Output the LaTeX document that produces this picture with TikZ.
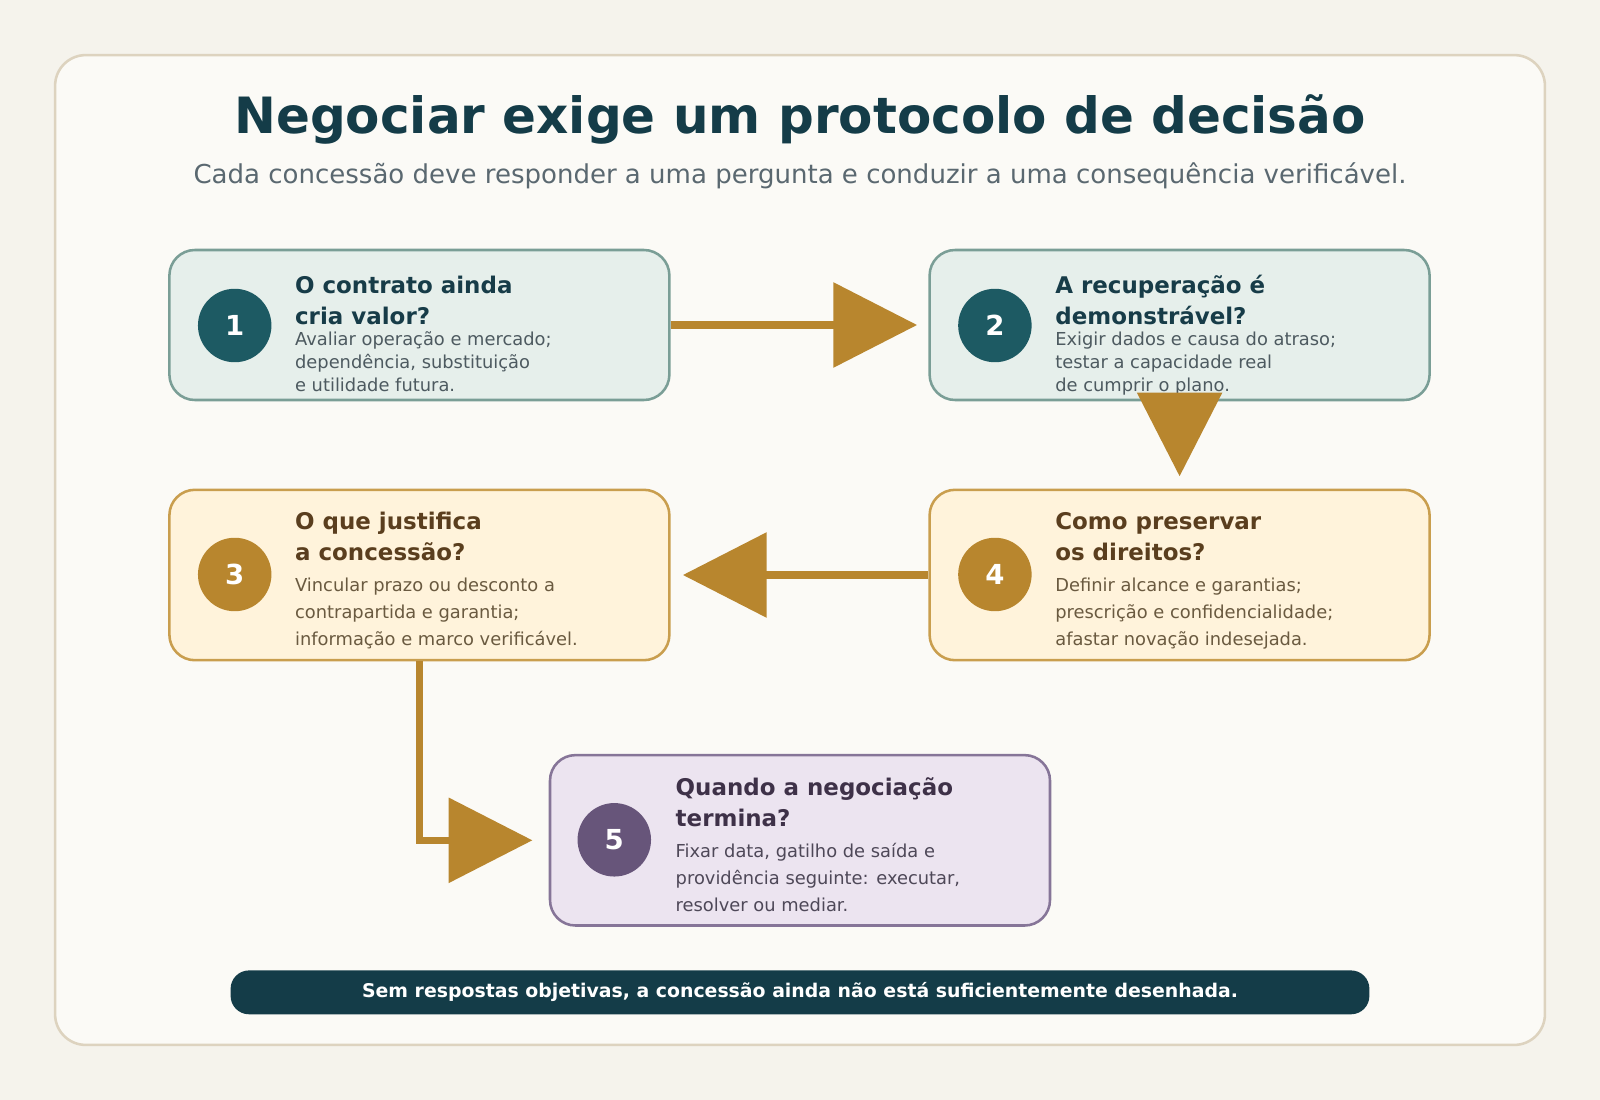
\documentclass[tikz,border=0pt]{standalone}
\usepackage{fontspec}
\setmainfont{DejaVu Sans}
\usetikzlibrary{arrows.meta}
\definecolor{bg}{HTML}{F5F3EC}\definecolor{card}{HTML}{FBFAF6}\definecolor{cardb}{HTML}{DDD3BF}
\definecolor{dark}{HTML}{143C48}\definecolor{sub}{HTML}{5A6870}
\definecolor{tf}{HTML}{E6EFEB}\definecolor{tb}{HTML}{7A9E96}\definecolor{tc}{HTML}{1D5A63}\definecolor{tt}{HTML}{173C48}\definecolor{tx}{HTML}{4D5A60}
\definecolor{yf}{HTML}{FFF3DB}\definecolor{yb}{HTML}{C99E4E}\definecolor{yc}{HTML}{B8862E}\definecolor{yt}{HTML}{5A3E1E}\definecolor{yx}{HTML}{6A5A40}
\definecolor{pf}{HTML}{ECE4F0}\definecolor{pb}{HTML}{867598}\definecolor{pc}{HTML}{67557A}\definecolor{pt}{HTML}{3E3148}\definecolor{px}{HTML}{4E4858}
\definecolor{arr}{HTML}{B8862E}
\begin{document}
\begin{tikzpicture}[x=1pt,y=-1pt,
 box/.style={draw,line width=2.5pt,rounded corners=25pt,minimum width=490pt,inner sep=0pt},
 num/.style={circle,minimum size=72pt,inner sep=0pt,text=white,font=\fontsize{27}{27}\selectfont\bfseries},
 ttl/.style={anchor=base west,inner sep=0pt,font=\fontsize{22.5}{30}\selectfont\bfseries,align=left},
 bdy/.style={anchor=base west,inner sep=0pt,align=left},
 con/.style={draw=arr,line width=7pt,-{Triangle[length=82pt,width=82pt]}}]
\useasboundingbox (0,0) rectangle (1568,1078);
\fill[bg] (0,0) rectangle (1568,1078);
\draw[fill=card,draw=cardb,line width=2.5pt,rounded corners=30pt] (54,54) rectangle (1514,1024);
\node[font=\fontsize{49}{49}\selectfont\bfseries,text=dark] (title) at (784,117) {Negociar exige um protocolo de decisão};
\node[font=\fontsize{25.5}{25.5}\selectfont,text=sub] (subt) at (784,172) {Cada concessão deve responder a uma pergunta e conduzir a uma consequência verificável.};
% boxes
\node[box,fill=tf,draw=tb,minimum height=147pt] (b1) at (411,318.5) {};
\node[box,fill=tf,draw=tb,minimum height=147pt] (b2) at (1156,318.5) {};
\node[box,fill=yf,draw=yb,minimum height=167pt] (b3) at (411,563.5) {};
\node[box,fill=yf,draw=yb,minimum height=167pt] (b4) at (1156,563.5) {};
\node[box,fill=pf,draw=pb,minimum height=167pt] (b5) at (784,823.5) {};
\node[num,fill=tc] (n1) at (230,319) {1};
\node[num,fill=tc] (n2) at (975,319) {2};
\node[num,fill=yc] (n3) at (230,563) {3};
\node[num,fill=yc] (n4) at (975,563) {4};
\node[num,fill=pc] (n5) at (602,823) {5};
\node[ttl,text=tt] (t1) at (289,318) {O contrato ainda\\cria valor?};
\node[bdy,text=tx,font=\fontsize{17.5}{22.5}\selectfont] (d1) at (289,384) {Avaliar operação e mercado;\\dependência, substituição\\e utilidade futura.};
\node[ttl,text=tt] (t2) at (1034,318) {A recuperação é\\demonstrável?};
\node[bdy,text=tx,font=\fontsize{17.5}{22.5}\selectfont] (d2) at (1034,384) {Exigir dados e causa do atraso;\\testar a capacidade real\\de cumprir o plano.};
\node[ttl,text=yt] (t3) at (289,549) {O que justifica\\a concessão?};
\node[bdy,text=yx,font=\fontsize{17.5}{26.5}\selectfont] (d3) at (289,633) {Vincular prazo ou desconto a\\contrapartida e garantia;\\informação e marco verificável.};
\node[ttl,text=yt] (t4) at (1034,549) {Como preservar\\os direitos?};
\node[bdy,text=yx,font=\fontsize{17.5}{26.5}\selectfont] (d4) at (1034,633) {Definir alcance e garantias;\\prescrição e confidencialidade;\\afastar novação indesejada.};
\node[ttl,text=pt] (t5) at (662,810) {Quando a negociação\\termina?};
\node[bdy,text=px,font=\fontsize{17.5}{26.5}\selectfont] (d5) at (662,893) {Fixar data, gatilho de saída e\\providência seguinte: executar,\\resolver ou mediar.};
% connectors
\draw[con,shorten >=11pt] (b1.east) -- (b2.west);
\draw[con,shorten >=12pt,shorten <=-4pt] (b2.south) -- (b4.north);
\draw[con,shorten >=12pt] (b4.west) -- (b3.east);
\draw[con,shorten >=16pt] (b3.south) |- (b5.west);
% footer
\node[fill=dark,rounded corners=18pt,minimum width=1116pt,minimum height=43pt,inner sep=0pt,text=white,font=\fontsize{18.5}{18.5}\selectfont\bfseries] (foot) at (784,972.5) {Sem respostas objetivas, a concessão ainda não está suficientemente desenhada.};
\end{tikzpicture}
\end{document}
